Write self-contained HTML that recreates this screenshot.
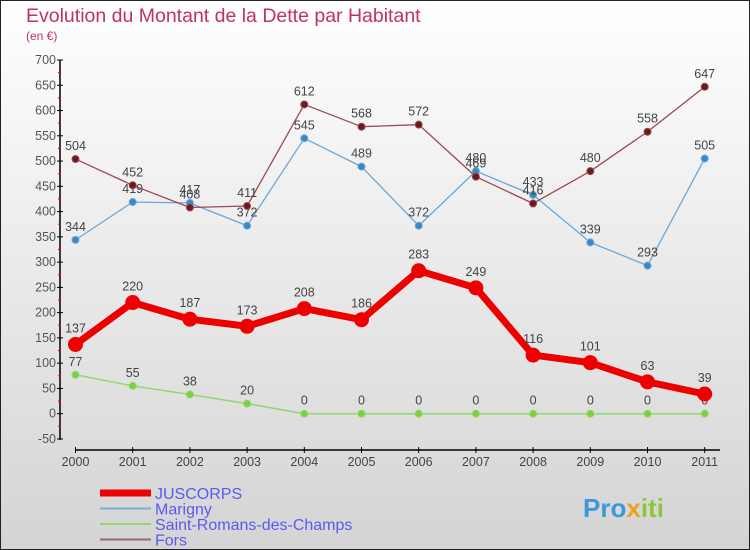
<!DOCTYPE html>
<html><head><meta charset="utf-8"><style>
body{margin:0}
svg{display:block;font-family:"Liberation Sans","DejaVu Sans",sans-serif}
</style></head><body>
<svg id="c" width="750" height="550" viewBox="0 0 750 550">
<defs><linearGradient id="bg" x1="0" y1="0" x2="0" y2="1"><stop offset="0" stop-color="#ffffff"/><stop offset="1" stop-color="#d4d4d4"/></linearGradient></defs>
<rect x="0.5" y="0.5" width="749" height="549" fill="url(#bg)" stroke="#222"/>
<text x="26" y="22" font-size="19.5" fill="#c0306a">Evolution du Montant de la Dette par Habitant</text>
<text x="26" y="40" font-size="12" fill="#c0306a">(en €)</text>
<g id="axes"></g>
<g id="series"></g>
<g id="legend"></g>
<text x="583" y="517" font-size="26" font-weight="bold" fill="#3a9ad9">Pro<tspan fill="#f0a020">x</tspan><tspan fill="#8cc63f">iti</tspan></text>
</svg>
<script>
const years=[2000,2001,2002,2003,2004,2005,2006,2007,2008,2009,2010,2011];
const yTicks=[-50,0,50,100,150,200,250,300,350,400,450,500,550,600,650,700];
const juscorps=[137,220,187,173,208,186,283,249,116,101,63,39];
const marigny=[344,419,417,372,545,489,372,480,433,339,293,505];
const saintRomans=[77,55,38,20,0,0,0,0,0,0,0,0];
const fors=[504,452,408,411,612,568,572,469,416,480,558,647];
const NS='http://www.w3.org/2000/svg';
function X(i){return 75.5+i*57.2;}
function Y(v){return 413.7-v*0.5053;}
function mk(tag,attrs,parent){const e=document.createElementNS(NS,tag);for(const k in attrs)e.setAttribute(k,attrs[k]);parent.appendChild(e);return e;}
const ax=document.getElementById('axes');
let e=mk('line',{x1:60,y1:60,x2:60,y2:440,stroke:'#000','stroke-width':1.5},ax);


yTicks.forEach((t,k)=>{
 const y=Y(t);
 const l=mk('line',{x1:57,y1:y,x2:63,y2:y,stroke:'#000'},ax);
 
 
 const tx=mk('text',{x:56,y:y+4,'font-size':12.5,fill:'#555','text-anchor':'end'},ax);
 tx.textContent=t;
 
 
 if(k<yTicks.length-1){const m=mk('line',{x1:58,y1:Y(t+25),x2:61,y2:Y(t+25),stroke:'#e00'},ax);
 
 }
});
e=mk('line',{x1:75,y1:450,x2:720,y2:450,stroke:'#000','stroke-width':1.5},ax);


years.forEach((yr,i)=>{
 const l=mk('line',{x1:X(i),y1:447,x2:X(i),y2:453,stroke:'#000'},ax);
 
 
 const t=mk('text',{x:X(i),y:466,'font-size':12.5,fill:'#444','text-anchor':'middle'},ax);
 t.textContent=yr;
 
 
});
const sg=document.getElementById('series');
function draw(name,vals,color,fill,w,r,dy){
 const g=mk('g',{},sg);
 
 
 const p=mk('polyline',{points:vals.map((v,i)=>X(i)+','+Y(v)).join(' '),fill:'none',stroke:color,'stroke-width':w,'stroke-linejoin':'round'},g);
 
 
 vals.forEach((v,i)=>{
  const c=mk('circle',{cx:X(i),cy:Y(v),r:r,fill:fill,stroke:color,'stroke-width':1},g);
  
  
  const t=mk('text',{x:X(i),y:Y(v)+dy,'font-size':12.5,fill:'#444','text-anchor':'middle'},g);
  t.textContent=v;
  
  
 });
}
draw('saint-romans',saintRomans,'#90d870','#7cd040',1.5,3.5,-9);
draw('marigny',marigny,'#6aa8d8','#3a88c8',1.3,3.5,-9);
draw('fors',fors,'#9a4a50','#6a1a20',1.3,3.5,-9);
draw('juscorps',juscorps,'#ee0000','#ee0000',7,7,-12);
const lg=document.getElementById('legend');
const items=[['JUSCORPS','#ee0000',7],['Marigny','#7aaed0',2],['Saint-Romans-des-Champs','#90d870',2],['Fors','#9a6868',2]];
items.forEach((it,k)=>{
 const y=493+k*15.5;
 const l=mk('line',{x1:100,y1:y,x2:151,y2:y,stroke:it[1],'stroke-width':it[2]},lg);
 
 
 const t=mk('text',{x:155,y:y+6,'font-size':16,fill:'#5a5af0'},lg);
 t.textContent=it[0];
 
 
});
</script>
</body></html>
